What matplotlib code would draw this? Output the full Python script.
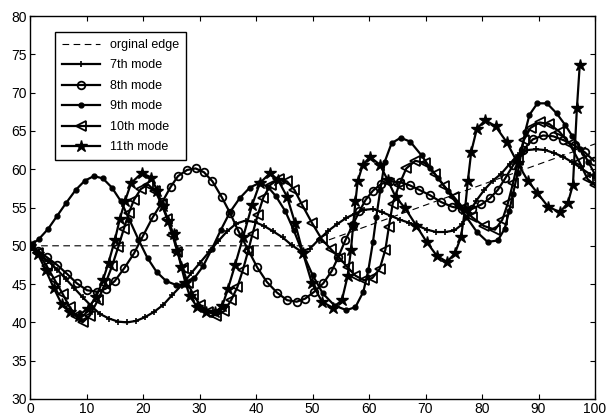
import matplotlib
matplotlib.use("Agg")
import matplotlib.pyplot as plt

plt.rcParams['font.family'] = ['Liberation Sans', 'DejaVu Sans']

# original edge (dashed)
edge_x = [0, 50, 100]
edge_y = [50, 50, 63.3]

# 7th mode (+)
m7_x = [0, 1.6, 3.2, 4.8, 6.3, 7.8, 9.3, 10.9, 12.4, 14.0, 15.6, 17.2, 18.8, 20.4, 22.0,
        23.6, 25.2, 26.9, 28.5, 30.1, 31.7, 33.3, 34.9, 36.5, 38.2, 39.8, 41.4, 43.0, 44.7,
        46.3, 47.9, 49.5, 51.1, 52.7, 54.3, 55.9, 57.5, 59.1, 60.7, 62.3, 63.9, 65.5, 67.1,
        68.7, 70.3, 71.9, 73.5, 75.1, 76.5, 77.7, 79.0, 80.4, 81.9, 83.4, 84.9, 86.4, 88.0,
        89.6, 91.2, 92.8, 94.4, 96.0, 97.6, 99.2, 100]
m7_y = [50, 49.0, 48.0, 46.9, 45.7, 44.5, 43.3, 42.1, 41.1, 40.5, 40.1, 40.0, 40.2, 40.7, 41.4,
        42.3, 43.6, 44.9, 46.4, 47.8, 49.2, 50.6, 51.9, 52.9, 53.3, 53.1, 52.6, 51.9, 51.1,
        50.1, 49.3, 49.6, 50.8, 51.9, 52.8, 53.6, 54.2, 54.7, 54.8, 54.4, 53.9, 53.4, 53.0,
        52.6, 52.1, 51.8, 51.8, 52.0, 52.8, 54.3, 55.9, 57.3, 58.5, 59.4, 60.7, 61.9, 62.5,
        62.6, 62.5, 62.1, 61.6, 60.9, 60.1, 59.3, 58.9]

# 8th mode (o)
m8_x = [0, 1.5, 3.0, 4.8, 6.6, 8.3, 10.1, 11.9, 13.4, 15.0, 16.7, 18.4, 20.0, 21.7, 23.4,
        24.9, 26.2, 27.8, 29.3, 30.8, 32.3, 33.9, 35.4, 36.9, 38.6, 40.2, 41.9, 43.7, 45.5,
        47.2, 48.7, 50.3, 51.9, 53.4, 54.6, 55.8, 57.1, 58.3, 59.4, 60.7, 62.2, 63.8, 65.5,
        67.2, 68.9, 70.8, 72.8, 74.7, 76.5, 78.2, 79.9, 81.4, 82.8, 84.1, 85.5, 87.3, 89.0,
        90.8, 92.6, 94.4, 96.4, 98.2, 99.8]
m8_y = [50, 49.3, 48.5, 47.5, 46.3, 45.1, 44.2, 44.0, 44.4, 45.4, 47.1, 49.0, 51.3, 53.7, 55.7,
        57.7, 59.1, 59.9, 60.1, 59.6, 58.4, 56.4, 54.3, 51.9, 49.5, 47.2, 45.3, 43.9, 42.9,
        42.7, 43.1, 44.0, 45.1, 46.7, 48.6, 50.7, 52.7, 54.5, 56.0, 57.2, 58.1, 58.4, 58.3,
        57.9, 57.3, 56.6, 55.7, 55.1, 54.8, 54.8, 55.4, 56.2, 57.3, 58.8, 60.5, 62.5, 63.9,
        64.4, 64.3, 63.8, 63.1, 62.2, 61.1]

# 9th mode (.)
m9_x = [0, 1.6, 3.2, 4.8, 6.4, 8.1, 9.7, 11.3, 12.9, 14.5, 16.1, 17.6, 19.2, 20.8, 22.4,
        24.1, 25.8, 27.5, 29.1, 30.6, 32.2, 33.8, 35.4, 37.1, 38.9, 40.6, 42.1, 43.5, 45.2,
        46.7, 48.3, 50.0, 51.8, 53.9, 56.0, 57.6, 59.0, 59.9, 60.7, 61.3, 62.0, 62.8, 64.0,
        65.6, 67.3, 69.3, 70.8, 72.3, 73.9, 75.5, 77.2, 79.1, 81.0, 82.8, 84.0, 84.8, 85.5,
        86.3, 87.0, 87.6, 88.4, 89.8, 91.5, 93.2, 94.7, 96.0, 97.4, 98.8, 100]
m9_y = [50, 50.9, 52.2, 53.9, 55.6, 57.3, 58.5, 59.1, 58.8, 57.6, 55.8, 53.4, 50.8, 48.4, 46.6,
        45.4, 44.9, 45.0, 45.8, 47.3, 49.6, 52.1, 54.4, 56.2, 57.6, 58.2, 57.7, 56.5, 54.5,
        52.0, 49.0, 46.2, 43.8, 42.2, 41.6, 42.0, 44.0, 46.9, 50.5, 53.8, 57.3, 61.0, 63.4,
        64.1, 63.6, 61.8, 60.2, 58.8, 57.2, 55.5, 53.8, 51.8, 50.5, 50.7, 52.2, 54.5, 56.8,
        59.5, 62.3, 64.8, 67.1, 68.6, 68.6, 67.3, 65.8, 64.3, 62.7, 61.0, 59.3]

# 10th mode (<)
m10_x = [0, 1.5, 3.0, 4.4, 5.8, 7.0, 8.2, 9.3, 10.6, 12.0, 13.3, 14.5, 15.6, 16.6, 17.5,
         18.4, 19.6, 20.9, 22.2, 23.3, 24.3, 25.2, 26.1, 27.0, 27.9, 28.9, 30.1, 31.5, 33.0,
         34.4, 35.6, 36.7, 37.7, 38.6, 39.4, 40.3, 41.3, 42.6, 44.1, 45.5, 46.8, 48.2, 49.9,
         51.6, 53.2, 54.8, 56.2, 57.6, 59.1, 60.6, 61.9, 62.9, 63.5, 64.2, 65.3, 66.6, 68.2,
         69.9, 71.6, 73.3, 75.0, 76.6, 78.3, 80.3, 82.3, 83.6, 84.6, 85.5, 86.4, 87.4, 88.6,
         90.2, 91.9, 93.7, 95.5, 97.2, 98.7, 100]
m10_y = [50, 49.0, 47.3, 45.5, 43.7, 42.0, 40.8, 40.0, 40.9, 42.9, 45.0, 47.3, 49.8, 52.2, 54.3,
         56.0, 57.4, 58.0, 57.1, 55.4, 53.5, 51.4, 49.2, 47.1, 45.2, 43.6, 42.3, 41.4, 40.9,
         41.5, 42.9, 44.6, 46.9, 49.3, 51.6, 54.0, 56.3, 58.0, 58.7, 58.4, 57.3, 55.3, 53.0,
         50.9, 49.6, 48.4, 47.2, 46.1, 45.5, 45.8, 47.0, 49.5, 52.4, 55.5, 57.9, 60.1, 61.1,
         60.8, 59.4, 57.8, 56.4, 55.0, 53.7, 52.6, 52.1, 53.4, 55.6, 58.2, 61.2, 63.8, 65.4,
         66.1, 65.9, 64.9, 63.3, 61.0, 58.7, 57.9]

# 11th mode (*)
m11_x = [0, 1.4, 2.8, 4.2, 5.6, 7.1, 8.6, 10.2, 11.7, 12.9, 13.9, 15.0, 15.9, 16.8, 17.9,
         19.8, 21.5, 22.5, 23.5, 24.5, 25.4, 26.1, 26.8, 27.5, 28.3, 29.6, 31.2, 32.7, 34.0,
         35.0, 36.3, 37.7, 39.3, 40.7, 42.5, 43.9, 45.5, 46.9, 48.3, 49.9, 51.7, 53.6, 55.2,
         56.2, 56.8, 57.2, 57.6, 58.0, 58.9, 60.2, 61.9, 63.3, 64.7, 66.4, 68.4, 70.2, 72.0,
         73.8, 75.2, 76.3, 77.0, 77.5, 78.1, 79.1, 80.6, 82.4, 84.4, 86.3, 88.1, 89.8, 91.7,
         93.8, 95.2, 96.1, 96.8, 97.3]
m11_y = [50, 48.9, 46.8, 44.5, 42.4, 41.3, 40.9, 41.8, 43.3, 45.5, 47.8, 50.7, 53.5, 55.8, 58.2,
         59.5, 58.9, 57.2, 55.2, 53.3, 51.5, 49.3, 47.2, 45.2, 43.4, 42.0, 41.3, 41.3, 42.1,
         44.3, 47.5, 51.1, 55.3, 58.2, 59.5, 58.6, 56.4, 53.0, 49.1, 45.1, 42.7, 41.9, 42.9,
         46.0, 49.4, 52.7, 55.8, 58.4, 60.6, 61.6, 60.6, 58.6, 56.4, 54.9, 52.6, 50.5, 48.7,
         47.9, 49.0, 51.2, 54.8, 58.5, 62.3, 65.3, 66.4, 65.6, 63.5, 60.8, 58.5, 56.9, 55.1,
         54.4, 55.6, 58.0, 68.0, 73.6]

labels = ['orginal edge', '7th mode', '8th mode', '9th mode', '10th mode', '11th mode']
x_ticks = [0, 10, 20, 30, 40, 50, 60, 70, 80, 90, 100]
y_ticks = [30, 35, 40, 45, 50, 55, 60, 65, 70, 75, 80]

fig = plt.figure(figsize=(6.08, 4.18), dpi=100)
ax = fig.add_axes([30 / 608, 19 / 418, 565 / 608, 383 / 418])

lw = 1.6
ax.plot(edge_x, edge_y, color='black', lw=0.8, dashes=(6, 4), label=labels[0])
ax.plot(m7_x, m7_y, color='black', lw=lw, marker='+', ms=5, mew=1.2, label=labels[1])
ax.plot(m8_x, m8_y, color='black', lw=lw, marker='o', ms=5.5, mew=1.3, mfc='none', label=labels[2])
ax.plot(m9_x, m9_y, color='black', lw=lw, marker='.', ms=7, label=labels[3])
ax.plot(m10_x, m10_y, color='black', lw=lw, marker='<', ms=6.5, mew=1.3, mfc='none', label=labels[4])
ax.plot(m11_x, m11_y, color='black', lw=lw, marker='*', ms=9, label=labels[5])

ax.set_xlim(0, 100)
ax.set_ylim(30, 80)
ax.set_xticks(x_ticks)
ax.set_yticks(y_ticks)
ax.tick_params(direction='in', top=True, right=True, length=3.6, width=0.8,
               labelsize=10, pad=2)
for s in ax.spines.values():
    s.set_linewidth(1.0)

leg = ax.legend(loc='upper left', bbox_to_anchor=(0.044, 0.958), borderaxespad=0,
                fontsize=9, handlelength=3.1, labelspacing=0.68, frameon=True,
                fancybox=False, edgecolor='black', framealpha=1, borderpad=0.55,
                handletextpad=0.75)
leg.get_frame().set_linewidth(1.0)

fig.savefig('out.png', dpi=100)
